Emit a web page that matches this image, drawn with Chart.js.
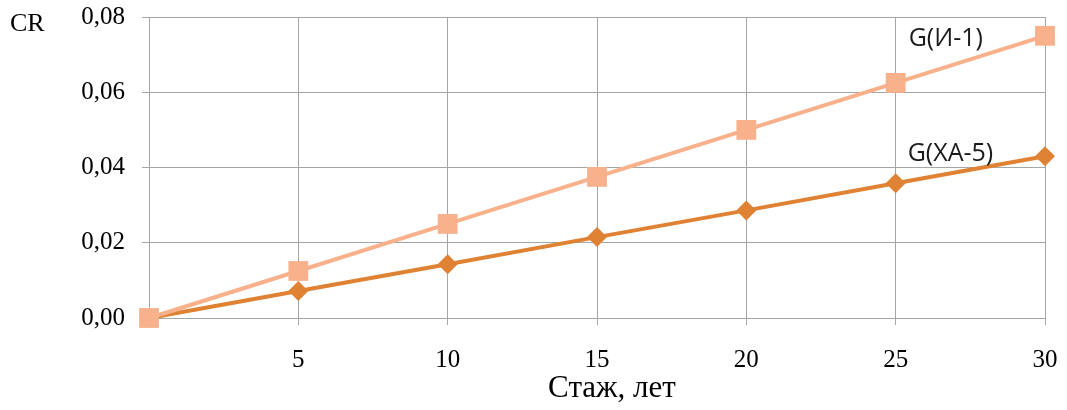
<!DOCTYPE html>
<html>
<head>
<meta charset="utf-8">
<script src="https://cdn.jsdelivr.net/npm/chart.js@4/dist/chart.umd.min.js"></script>
<style>
  html, body { margin: 0; padding: 0; background: #fff; }
  #wrap { width: 1067px; height: 410px; position: relative; }
</style>
</head>
<body>
<div id="wrap"><canvas id="c" width="1067" height="410"></canvas></div>
<script>
// Work experience, years
const years = [0, 5, 10, 15, 20, 25, 30];
// CR values for each group
const seriesI1 = [0, 0.0125, 0.025, 0.0375, 0.05, 0.0625, 0.075];
const seriesXA5 = [0, 0.0072, 0.0143, 0.0215, 0.0286, 0.0358, 0.043];
const seriesNames = ['G(И-1)', 'G(ХА-5)'];
const xTitle = 'Стаж, лет';
const yTitle = 'CR';

const GRID = '#a6a6a6';
const LIGHT = '#f8b18b';
const DARK = '#e08234';
const SERIF = '"Liberation Serif", "Times New Roman", serif';

const pts = (ys) => years.map((x, i) => ({ x, y: ys[i] }));

// Series captions next to the line ends, plus both axis captions
const captions = {
  id: 'captions',
  afterDatasetsDraw(chart) {
    const { ctx, scales: { x, y } } = chart;
    ctx.save();
    ctx.fillStyle = '#1a1a1a';
    ctx.textBaseline = 'middle';
    ctx.textAlign = 'left';
    ctx.font = '25px "Open Sans", "DejaVu Sans", sans-serif';
    ctx.fillText(seriesNames[0], x.getPixelForValue(25) + 13, y.getPixelForValue(0.0743));
    ctx.fillText(seriesNames[1], x.getPixelForValue(25) + 12, y.getPixelForValue(0.0435));
    ctx.fillStyle = '#000';
    ctx.font = '26px ' + SERIF;
    ctx.fillText(yTitle, 10, 24);
    // x-axis caption, set a little right of the plot centre
    ctx.textAlign = 'center';
    ctx.font = '31px ' + SERIF;
    ctx.fillText(xTitle, x.getPixelForValue(15.5), 389);
    ctx.restore();
  }
};

new Chart(document.getElementById('c'), {
  type: 'line',
  data: {
    datasets: [
      {
        label: seriesNames[0],
        data: pts(seriesI1),
        borderColor: LIGHT,
        backgroundColor: LIGHT,
        borderWidth: 4,
        pointStyle: 'rect',
        pointRadius: 14,
        pointBorderWidth: 0,
        tension: 0,
        clip: false
      },
      {
        label: seriesNames[1],
        data: pts(seriesXA5),
        borderColor: DARK,
        backgroundColor: DARK,
        borderWidth: 4,
        pointStyle: 'rectRot',
        pointRadius: 10,
        pointBorderWidth: 0,
        tension: 0,
        clip: false
      }
    ]
  },
  options: {
    responsive: false,
    animation: false,
    layout: { padding: { left: 0, top: 17, right: 22, bottom: 0 } },
    plugins: { legend: { display: false }, tooltip: { enabled: false } },
    scales: {
      x: {
        type: 'linear',
        min: 0,
        max: 30,
        afterFit(s) { s.height = 92; s.paddingLeft = 0; s.paddingRight = 0; },
        ticks: {
          stepSize: 5,
          color: '#000',
          padding: 20,
          font: { family: SERIF, size: 25 },
          callback: (v) => (v === 0 ? '' : String(v))
        },
        grid: { color: GRID, lineWidth: 1, tickLength: 7 },
        border: { color: GRID, width: 1 }
      },
      y: {
        min: 0,
        max: 0.08,
        afterFit(s) { s.width = 149; s.paddingTop = 0; s.paddingBottom = 0; },
        ticks: {
          stepSize: 0.02,
          color: '#000',
          padding: 17,
          font: { family: SERIF, size: 25 },
          callback: (v) => v.toFixed(2).replace('.', ',')
        },
        grid: { color: GRID, lineWidth: 1, tickLength: 7 },
        border: { color: GRID, width: 1 }
      }
    }
  },
  plugins: [captions]
});
</script>
</body>
</html>
